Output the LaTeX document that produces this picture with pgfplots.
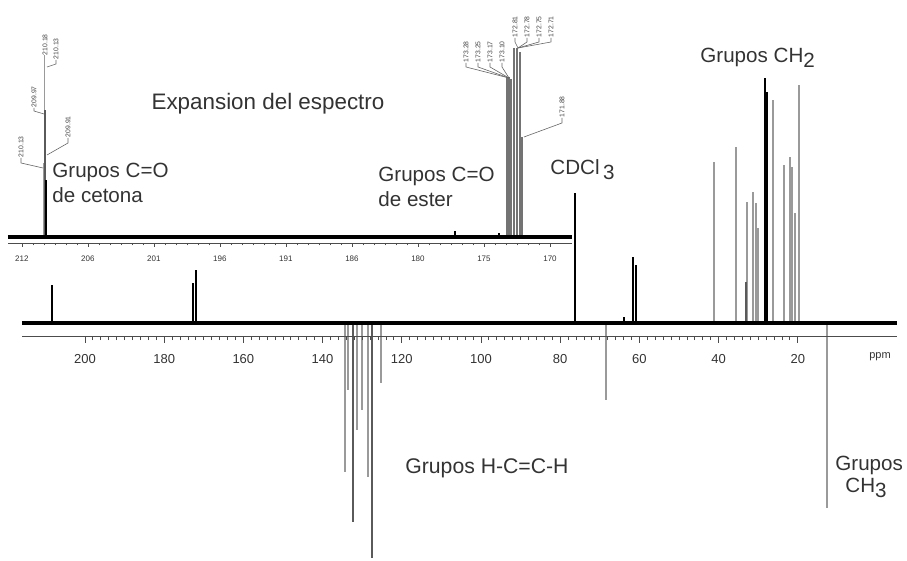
\documentclass[border=0pt]{standalone}
\usepackage{pgfplots}
\pgfplotsset{compat=1.18}
\usepackage{fontspec}
\setmainfont{Liberation Sans}
\definecolor{pk}{HTML}{9A9A9A}
\definecolor{pkd}{HTML}{5A5A5A}
\definecolor{txt}{HTML}{333333}
\tikzset{pl/.style={rotate=90, anchor=west, font=\fontsize{3.4}{4}\selectfont, inner sep=0.2pt, text=black!75},
  ld/.style={draw=black!60, line width=0.3pt}}
\begin{document}
\begin{tikzpicture}
% ---------------- main spectrum ----------------
\begin{axis}[at={(11pt,0pt)}, anchor=south west, scale only axis,
  width=437.5pt, height=280.5pt, xmin=-5.05, xmax=215.9, x dir=reverse,
  ymin=-238, ymax=323, hide axis, clip=false]
\addplot[ycomb, pk, line width=1.1pt, mark=none] coordinates {
 (41.2,161) (35.6,176) (32.8,121) (31.3,131) (30.6,120) (30.0,95)
 (26.3,223) (23.5,158) (22.0,166) (21.5,156) (20.7,110) (19.7,238)
 (134.3,-149) (133.6,-67) (131.3,-107) (130.1,-87) (128.5,-154) (125.3,-60)
 (12.6,-185) (68.4,-77)};
\addplot[ycomb, pkd, line width=1pt, mark=none] coordinates {
 (132.3,-199) (127.5,-235) (33.1,41)};
\addplot[ycomb, black, line width=1.2pt, mark=none] coordinates {
 (208.3,38) (172.7,40) (172.0,53) (76.3,130) (61.6,66) (60.9,58) (63.9,6)
 (28.3,245) (27.8,231)};
\addplot[black, line width=2pt, mark=none] coordinates {(215.9,0) (-5.05,0)};
\end{axis}
% main scale
\begin{axis}[at={(11pt,112pt)}, anchor=south west, scale only axis,
  width=437.5pt, height=4pt, xmin=-5.05, xmax=215.9, x dir=reverse,
  ymin=0, ymax=1, axis x line=bottom, hide y axis,
  /pgf/number format/assume math mode=true,
  x axis line style={-, black!70, line width=0.5pt},
  xtick={20,40,60,80,100,120,140,160,180,200}, minor x tick num=9,
  tick align=outside, major tick length=3pt, minor tick length=1.6pt,
  tick style={black!70, line width=0.4pt},
  xticklabel style={font=\fontsize{6.5}{7}\selectfont, text=txt, yshift=-2pt}]
\addplot[draw=none] coordinates {(100,0)};
\end{axis}
% ---------------- inset ----------------
\begin{axis}[at={(4pt,0pt)}, anchor=south west, scale only axis,
  width=282pt, height=280.5pt, xmin=168.25, xmax=213.1, x dir=reverse,
  ymin=-324, ymax=237, hide axis, clip=false]
\addplot[ycomb, pk, line width=0.9pt, mark=none] coordinates {
 (210.25,74) (210.20,182) (210.13,82)};
\addplot[ycomb, pkd, line width=1pt, mark=none] coordinates {(210.17,127)};
\addplot[ycomb, black, line width=1.3pt, mark=none] coordinates {(210.09,57) (177.56,6) (174.05,4)};
\addplot[ycomb, black!55, line width=0.9pt, mark=none] coordinates {
 (173.42,160) (173.26,160) (173.10,158) (172.86,189) (172.62,189) (172.39,185) (172.23,100)};
\addplot[black, line width=1.6pt, mark=none] coordinates {(213.1,0) (168.25,0)};
\end{axis}
\begin{axis}[at={(4pt,159pt)}, anchor=south west, scale only axis,
  width=282pt, height=3pt, xmin=168.25, xmax=213.1, x dir=reverse,
  ymin=0, ymax=1, axis x line=bottom, hide y axis,
  /pgf/number format/assume math mode=true,
  x axis line style={-, black!70, line width=0.4pt},
  xtick={170,175.25,180.5,185.75,191,196.25,201.5,206.75,212},
  xticklabels={170,175,180,186,191,196,201,206,212},
  minor x tick num=5,
  tick align=outside, major tick length=2pt, minor tick length=1.2pt,
  tick style={black!70, line width=0.3pt},
  xticklabel style={font=\fontsize{4}{4.5}\selectfont, text=txt, yshift=-1pt}]
\addplot[draw=none] coordinates {(190,0)};
\end{axis}
\begin{scope}[x=0.5pt,y=0.5pt]
\node[font=\fontsize{5.5}{6}\selectfont, text=txt] at (880,204) {ppm};
% peak label trees (ketone)
\draw[ld] (21,403)--(21,398)--(43,393);
\node[pl] at (21,403) {210.13};
\draw[ld] (34,453)--(34,450)--(44,447);
\node[pl] at (34,453) {209.97};
\node[pl] at (45,505) {210.18};
\draw[ld] (56,501)--(56,497)--(47,494);
\node[pl] at (56,501) {210.13};
\draw[ld] (68,423)--(68,418)--(47,406);
\node[pl] at (68,423) {209.91};
% peak label trees (ester)
\foreach \x/\t in {466/173.28,478/173.25,490/173.17,502/173.10}{
  \draw[ld] (\x,498)--(\x,494)--(509,483);
  \node[pl] at (\x,498) {\t};}
\foreach \x/\t in {515/172.81,527/172.78,539/172.75,551/172.71}{
  \draw[ld] (\x,523)--(\x,519)--(518,513);
  \node[pl] at (\x,523) {\t};}
\draw[ld] (562,443)--(562,438)--(524,424);
\node[pl] at (562,443) {171.88};
% ---------------- texts ----------------
\begin{scope}[every node/.style={font=\fontsize{10.3}{12}\selectfont, text=txt, inner sep=0pt}]
\node[font=\fontsize{11.2}{13}\selectfont] at (268,457) {Expansion del espectro};
\node[anchor=west] at (52,389) {Grupos C=O};
\node[anchor=west] at (52,366) {de cetona};
\node[anchor=west] at (378,385) {Grupos C=O};
\node[anchor=west] at (378,362) {de ester};
\node[anchor=west] at (550,391) {CDCl\raisebox{-0.45ex}{\,3}};
\node[anchor=west] at (700,503) {Grupos CH\raisebox{-0.45ex}{2}};
\node[anchor=west, font=\fontsize{10.6}{12}\selectfont] at (405,93) {Grupos H-C=C-H};
\node[anchor=west] at (835,96) {Grupos};
\node at (866,73) {CH\raisebox{-0.45ex}{3}};
\end{scope}
\path (0,0) rectangle (907,561);
\end{scope}
\end{tikzpicture}
\end{document}
